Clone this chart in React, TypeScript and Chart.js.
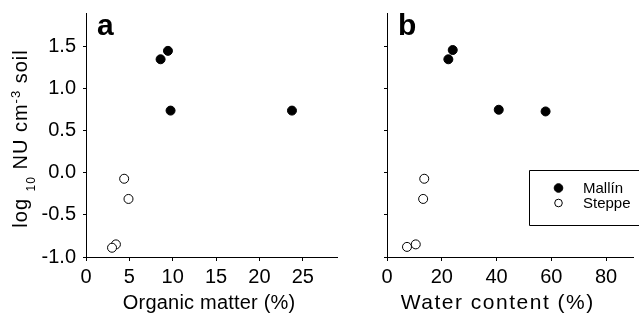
import React, { useEffect, useRef } from "react";
import { Chart, registerables } from "chart.js";

Chart.register(...registerables);

const FONT = '"Liberation Sans", Arial, Helvetica, sans-serif';

// data
const seriesNames = ["Mallín", "Steppe"];
const organicMallin = [8.6, 9.45, 9.75, 23.75];
const organicSteppe = [4.4, 4.9, 3.45, 3.0];
const waterMallin = [22.4, 24.0, 40.8, 57.9];
const waterSteppe = [13.6, 13.2, 10.5, 7.3];
const logNuMallinA = [1.35, 1.45, 0.74, 0.74];
const logNuSteppeA = [-0.07, -0.31, -0.85, -0.89];
const logNuMallinB = [1.35, 1.46, 0.75, 0.73];
const logNuSteppeB = [-0.07, -0.31, -0.85, -0.88];
const yTicks = [-1.0, -0.5, 0.0, 0.5, 1.0, 1.5];
const organicTicks = [0, 5, 10, 15, 20, 25];
const waterTicks = [0, 20, 40, 60, 80];
const panelLetters = ["a", "b"];
const xTitles = ["Organic matter (%)", "Water content (%)"];

const toPoints = (xs: number[], ys: number[]) => xs.map((x, i) => ({ x, y: ys[i] }));

type PanelProps = {
  left: number;
  width: number;
  yAxisWidth: number;
  showYLabels: boolean;
  letter: string;
  xTitle: string;
  xTitleCenter: number;
  xTitleSize: number;
  xTitleSpacing: number;
  xMax: number;
  xTicks: number[];
  mallin: { x: number; y: number }[];
  steppe: { x: number; y: number }[];
  showLegend: boolean;
};

const H = 325;

function Panel(p: PanelProps) {
  const ref = useRef<HTMLCanvasElement | null>(null);
  useEffect(() => {
    if (!ref.current) return;
    const textPlugin = {
      id: "texts",
      afterDraw(chart: any) {
        const ctx = chart.ctx;
        ctx.save();
        ctx.fillStyle = "#000";
        // panel letter
        ctx.font = `bold 30px ${FONT}`;
        ctx.textBaseline = "alphabetic";
        ctx.textAlign = "left";
        ctx.fillText(p.letter, chart.chartArea.left + 11, 35);
        // x title
        ctx.font = `${p.xTitleSize}px ${FONT}`;
        (ctx as any).letterSpacing = `${p.xTitleSpacing}px`;
        ctx.textAlign = "center";
        ctx.textBaseline = "alphabetic";
        ctx.fillText(p.xTitle, p.xTitleCenter - p.left + p.xTitleSpacing / 2, 309);
        (ctx as any).letterSpacing = "0px";
        ctx.restore();
      },
    };
    const yTitlePlugin = {
      id: "ytitle",
      afterDraw(chart: any) {
        if (!p.showYLabels) return;
        const ctx = chart.ctx;
        const parts = [
          { t: "log ", f: 20, dy: 0 },
          { t: "10", f: 12, dy: 8 },
          { t: " NU cm", f: 20, dy: 0 },
          { t: "-3", f: 13, dy: -7 },
          { t: " soil", f: 20, dy: 0 },
        ];
        ctx.save();
        (ctx as any).letterSpacing = "1px";
        let total = 0;
        const widths = parts.map((pt) => {
          ctx.font = `${pt.f}px ${FONT}`;
          const w = ctx.measureText(pt.t).width;
          total += w;
          return w;
        });
        const cy = 138.5;
        ctx.translate(27, cy);
        ctx.rotate(-Math.PI / 2);
        ctx.fillStyle = "#000";
        ctx.textBaseline = "alphabetic";
        ctx.textAlign = "left";
        let x = -total / 2;
        parts.forEach((pt, i) => {
          ctx.font = `${pt.f}px ${FONT}`;
          ctx.fillText(pt.t, x, pt.dy);
          x += widths[i];
        });
        ctx.restore();
      },
    };
    const legendPlugin = {
      id: "boxlegend",
      afterDraw(chart: any) {
        if (!p.showLegend) return;
        const ctx = chart.ctx;
        ctx.save();
        ctx.strokeStyle = "#000";
        ctx.lineWidth = 1;
        const bx = 186.5;
        ctx.beginPath();
        ctx.moveTo(chart.width + 2, 170.5);
        ctx.lineTo(bx, 170.5);
        ctx.lineTo(bx, 225.5);
        ctx.lineTo(chart.width + 2, 225.5);
        ctx.stroke();
        const rows = [
          { y: 188, fill: "#000", r: 4.3 },
          { y: 203, fill: "#fff", r: 3.8 },
        ];
        rows.forEach((row, i) => {
          ctx.beginPath();
          ctx.arc(215.5, row.y, row.r, 0, Math.PI * 2);
          ctx.fillStyle = row.fill;
          ctx.fill();
          ctx.strokeStyle = "#000";
          ctx.stroke();
          ctx.fillStyle = "#000";
          ctx.font = `15px ${FONT}`;
          ctx.textBaseline = "middle";
          ctx.textAlign = "left";
          ctx.fillText(seriesNames[i], 240, row.y + 0.5);
        });
        ctx.restore();
      },
    };
    const chart = new Chart(ref.current, {
      type: "scatter",
      data: {
        datasets: [
          {
            label: seriesNames[0],
            data: p.mallin,
            pointRadius: 4.5,
            pointBackgroundColor: "#000",
            pointBorderColor: "#000",
            pointBorderWidth: 1,
          },
          {
            label: seriesNames[1],
            data: p.steppe,
            pointRadius: 4.5,
            pointBackgroundColor: "#fff",
            pointBorderColor: "#000",
            pointBorderWidth: 1,
          },
        ],
      },
      options: {
        responsive: false,
        animation: false,
        events: [],
        layout: { padding: { top: 13, right: 0, bottom: 0, left: 0 } },
        plugins: { legend: { display: false }, tooltip: { enabled: false } },
        scales: {
          x: {
            type: "linear",
            min: 0,
            max: p.xMax,
            afterFit: (s: any) => {
              s.height = 68;
            },
            afterBuildTicks: (s: any) => {
              s.ticks = p.xTicks.map((v) => ({ value: v }));
            },
            ticks: {
              color: "#000",
              font: { family: FONT, size: 20, lineHeight: 1 },
              padding: 6,
              maxRotation: 0,
              callback: (v: any) => String(v),
            },
            grid: { drawOnChartArea: false, tickLength: 4, color: "#000" },
            border: { display: true, color: "#000", width: 1 },
          },
          y: {
            type: "linear",
            min: -1.0,
            max: 1.9,
            afterFit: (s: any) => {
              s.width = p.yAxisWidth;
            },
            afterBuildTicks: (s: any) => {
              s.ticks = yTicks.map((v) => ({ value: v }));
            },
            ticks: {
              display: p.showYLabels,
              color: "#000",
              font: { family: FONT, size: 20, lineHeight: 0.6 },
              padding: 7,
              callback: (v: any) => Number(v).toFixed(1),
            },
            grid: { drawOnChartArea: false, tickLength: 3, color: "#000" },
            border: { display: true, color: "#000", width: 1 },
          },
        },
      },
      plugins: [textPlugin, yTitlePlugin, legendPlugin],
    } as any);
    return () => chart.destroy();
  }, []);
  return (
    <canvas
      ref={ref}
      width={p.width}
      height={H}
      style={{ position: "absolute", left: p.left, top: 0, width: p.width, height: H }}
    />
  );
}

export default function App() {
  return (
    <div style={{ position: "fixed", left: 0, top: 0, width: 639, height: H, background: "#fff" }}>
      <Panel
        left={0}
        width={343}
        yAxisWidth={86}
        showYLabels={true}
        letter={panelLetters[0]}
        xTitle={xTitles[0]}
        xTitleCenter={209}
        xTitleSize={20}
        xTitleSpacing={0.2}
        xMax={29}
        xTicks={organicTicks}
        mallin={toPoints(organicMallin, logNuMallinA)}
        steppe={toPoints(organicSteppe, logNuSteppeA)}
        showLegend={false}
      />
      <Panel
        left={343}
        width={296}
        yAxisWidth={44}
        showYLabels={false}
        letter={panelLetters[1]}
        xTitle={xTitles[1]}
        xTitleCenter={497}
        xTitleSize={21}
        xTitleSpacing={1.5}
        xMax={90}
        xTicks={waterTicks}
        mallin={toPoints(waterMallin, logNuMallinB)}
        steppe={toPoints(waterSteppe, logNuSteppeB)}
        showLegend={true}
      />
    </div>
  );
}
